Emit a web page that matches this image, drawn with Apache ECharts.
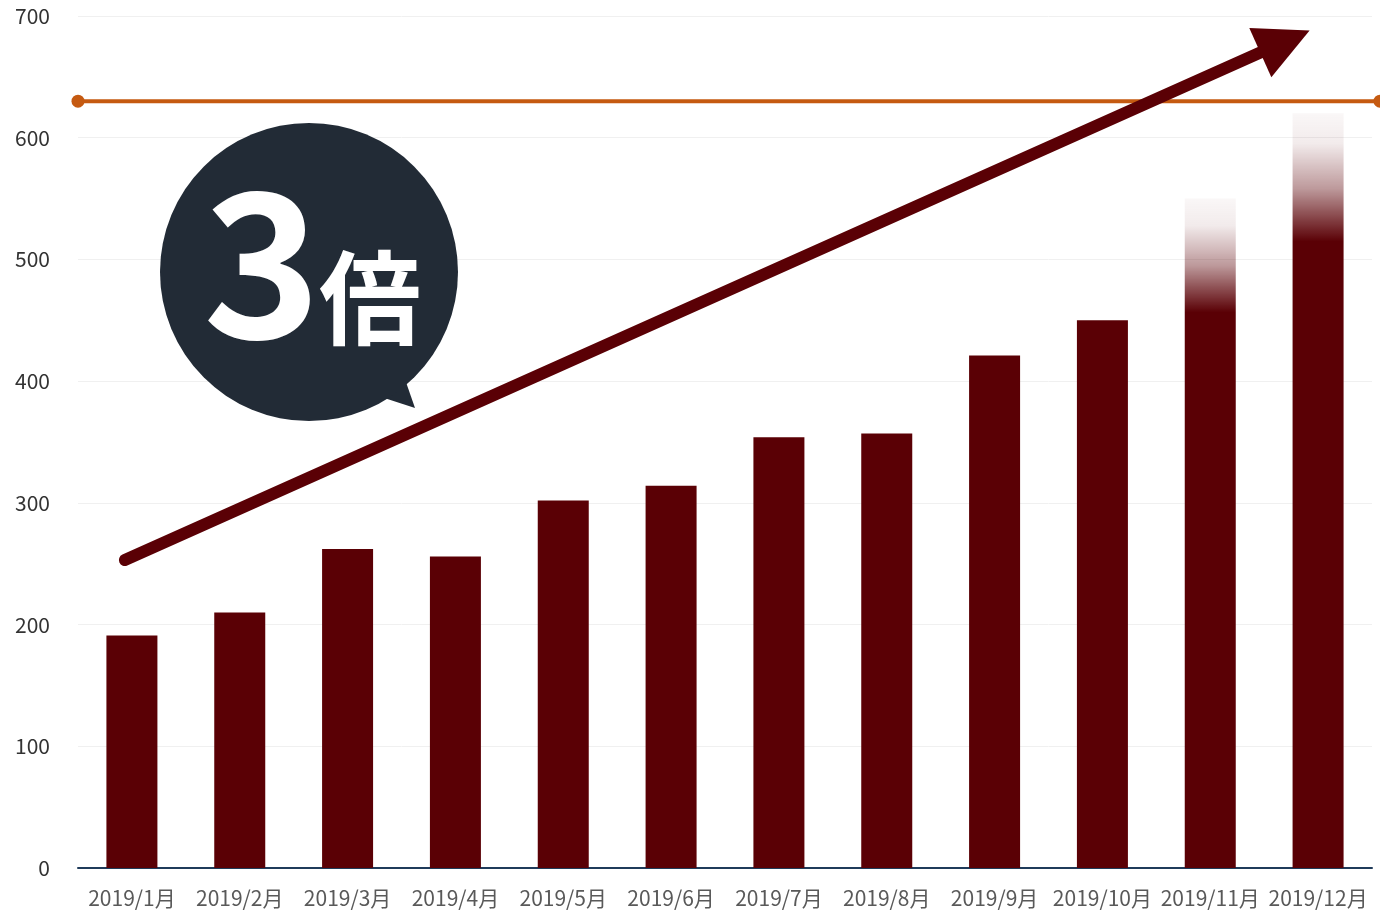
<!DOCTYPE html>
<html><head><meta charset="utf-8">
<script src="https://cdn.jsdelivr.net/npm/echarts@6/dist/echarts.min.js"></script>
<style>html,body{margin:0;padding:0;background:#fff}#c{width:1380px;height:911px}</style>
</head><body><div id="c"></div>
<script>
var categories = ['2019/1月','2019/2月','2019/3月','2019/4月','2019/5月','2019/6月','2019/7月','2019/8月','2019/9月','2019/10月','2019/11月','2019/12月'];
var sales = [191, 210, 262, 256, 302, 314, 354, 357, 421, 450, 550, 620];
var fadedMonths = [10, 11];
var targetValue = 630;
var trendStart = [0.036, 253];
var trendEnd = [0.927, 679];
var yTicks = {min: 0, max: 700, interval: 100};

var dark = '#5a0005';
var fade = new echarts.graphic.LinearGradient(0, 0, 0, 1, [
  {offset: 0, color: 'rgba(90,0,5,0.03)'},
  {offset: 0.04, color: 'rgba(90,0,5,0.08)'},
  {offset: 0.10, color: 'rgba(90,0,5,0.4)'},
  {offset: 0.17, color: dark},
  {offset: 1, color: dark}
]);
var barData = sales.map(function (v, i) {
  return fadedMonths.indexOf(i) >= 0 ? {value: v, itemStyle: {color: fade}} : v;
});

var font = '"Noto Sans CJK JP", "Noto Sans", sans-serif';
var chart = echarts.init(document.getElementById('c'));
chart.setOption({
  animation: false,
  grid: [
    {left: 78, right: 8, top: 16, bottom: 43},
    {left: 78, right: 0, top: 16, bottom: 43}
  ],
  xAxis: [
    {type: 'category', data: categories, gridIndex: 0,
     axisLine: {lineStyle: {color: '#1f3b5a', width: 2}},
     axisTick: {show: false},
     axisLabel: {color: '#595959', fontSize: 21, margin: 20, fontFamily: font, interval: 0}},
    {type: 'value', gridIndex: 1, min: 0, max: 1, show: false}
  ],
  yAxis: [
    {type: 'value', gridIndex: 0, min: yTicks.min, max: yTicks.max, interval: yTicks.interval,
     axisLine: {show: false}, axisTick: {show: false},
     splitLine: {lineStyle: {color: '#f0f0f0', width: 1}},
     axisLabel: {color: '#333', fontSize: 21, margin: 28, fontFamily: font}},
    {type: 'value', gridIndex: 1, min: yTicks.min, max: yTicks.max, show: false}
  ],
  series: [
    {type: 'bar', data: barData, barWidth: 51, itemStyle: {color: dark}, z: 2},
    {type: 'line', xAxisIndex: 1, yAxisIndex: 1, data: [[0, targetValue], [1, targetValue]],
     symbol: 'circle', symbolSize: 13, lineStyle: {color: '#c55a11', width: 4},
     itemStyle: {color: '#c55a11'}, z: 3},
    {type: 'lines', coordinateSystem: 'cartesian2d', xAxisIndex: 1, yAxisIndex: 1, z: 4,
     symbol: ['none', 'triangle'], symbolSize: [54, 54],
     lineStyle: {color: dark, width: 12, opacity: 1, cap: 'round'},
     itemStyle: {color: dark},
     data: [{coords: [trendStart, trendEnd]}]}
  ],
  graphic: [
    {type: 'polygon', z: 100, shape: {points: [[400, 365], [415, 408], [372, 394]]}, style: {fill: '#222b36'}},
    {type: 'circle', z: 100, shape: {cx: 309, cy: 272, r: 149}, style: {fill: '#222b36'}},
    {type: 'text', z: 101, style: {text: '3', x: 262, y: 262, fill: '#fff', font: 'bold 200px ' + font, textAlign: 'center', textVerticalAlign: 'middle'}},
    {type: 'text', z: 101, style: {text: '倍', x: 370, y: 298, fill: '#fff', font: 'bold 102px ' + font, textAlign: 'center', textVerticalAlign: 'middle'}}
  ]
});
</script></body></html>
